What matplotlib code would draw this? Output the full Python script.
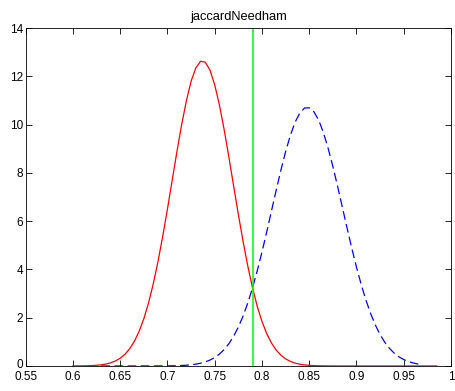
import numpy as np
import matplotlib
matplotlib.use("Agg")
import matplotlib.pyplot as plt
import matplotlib.transforms as mtransforms

plt.rcParams["font.family"] = ["Liberation Sans", "DejaVu Sans"]

title = "jaccardNeedham"

# red curve (solid), x step 0.005 from 0.600
red_x = np.arange(0.600, 0.9851, 0.005)
red_y = [0.001, 0.003, 0.005, 0.009, 0.017, 0.029, 0.049, 0.081, 0.132, 0.209,
         0.322, 0.485, 0.714, 1.024, 1.435, 1.961, 2.616, 3.409, 4.334, 5.378,
         6.512, 7.699, 8.883, 10.00, 10.99, 11.80, 12.35, 12.63, 12.59, 12.26,
         11.65, 10.81, 9.79, 8.65, 7.46, 6.28, 5.16, 4.14, 3.24, 2.47,
         1.845, 1.343, 0.954, 0.662, 0.448, 0.296, 0.191, 0.120, 0.074, 0.044,
         0.026, 0.015, 0.008, 0.004, 0.002, 0.001, 0.0005, 0.0002, 0.0001, 0.0,
         0.0, 0.0, 0.0, 0.0, 0.0, 0.0, 0.0, 0.0, 0.0, 0.0,
         0.0, 0.0, 0.0, 0.0, 0.0, 0.0, 0.0, 0.0]
red_x = red_x[:len(red_y)]

# blue curve (dashed), x step 0.005 from 0.630
blue_x = np.arange(0.630, 0.9701, 0.005)
blue_y = [0.0, 0.0, 0.0, 0.0, 0.0, 0.0, 0.0, 0.0001, 0.0001, 0.0003,
          0.0005, 0.0008, 0.0015, 0.0026, 0.0044, 0.0074, 0.0123, 0.0198, 0.0316, 0.0493,
          0.0757, 0.114, 0.169, 0.246, 0.352, 0.494, 0.682, 0.924, 1.231, 1.610,
          2.069, 2.612, 3.24, 3.946, 4.723, 5.553, 6.414, 7.277, 8.111, 8.881,
          9.553, 10.10, 10.48, 10.69, 10.70, 10.53, 10.19, 9.673, 9.024, 8.272,
          7.447, 6.587, 5.723, 4.885, 4.097, 3.375, 2.730, 2.171, 1.695, 1.300,
          0.980, 0.726, 0.528, 0.377, 0.265, 0.183, 0.124, 0.082, 0.054]
blue_x = blue_x[:len(blue_y)]

threshold = 0.79

x_ticks = [0.55, 0.6, 0.65, 0.7, 0.75, 0.8, 0.85, 0.9, 0.95, 1.0]
x_labels = ["0.55", "0.6", "0.65", "0.7", "0.75", "0.8", "0.85", "0.9", "0.95", "1"]
y_ticks = [0, 2, 4, 6, 8, 10, 12, 14]

fig = plt.figure(figsize=(4.56, 3.91), dpi=100)
ax = fig.add_axes([0.0564, 0.064, 0.9326, 0.864])

ax.plot(red_x, red_y, color="#ff0000", lw=0.9)
ax.plot(blue_x, blue_y, color="#0000ff", lw=0.9, linestyle=(0, (7, 3.5)))
ax.plot([threshold, threshold], [0, 14], color="#00ff00", lw=1.1)

ax.set_xlim(0.55, 1.0)
ax.set_ylim(0, 14)
ax.set_xticks(x_ticks)
ax.set_xticklabels(x_labels)
ax.set_yticks(y_ticks)
ax.tick_params(direction="in", length=4, width=0.6, labelsize=8.5,
               top=True, right=True)
ax.tick_params(axis="x", pad=3.5)
ax.tick_params(axis="y", pad=2)
for s in ax.spines.values():
    s.set_linewidth(0.6)
ax.set_title(title, fontsize=9.3, pad=6)

# nudge the "0" y label up a little so it clears "0.55" below it
fig.canvas.draw()
zero_label = ax.get_yticklabels()[0]
zero_label.set_transform(zero_label.get_transform() +
                         mtransforms.ScaledTranslation(0, 2 / 72, fig.dpi_scale_trans))

fig.savefig("out.png", dpi=100)
